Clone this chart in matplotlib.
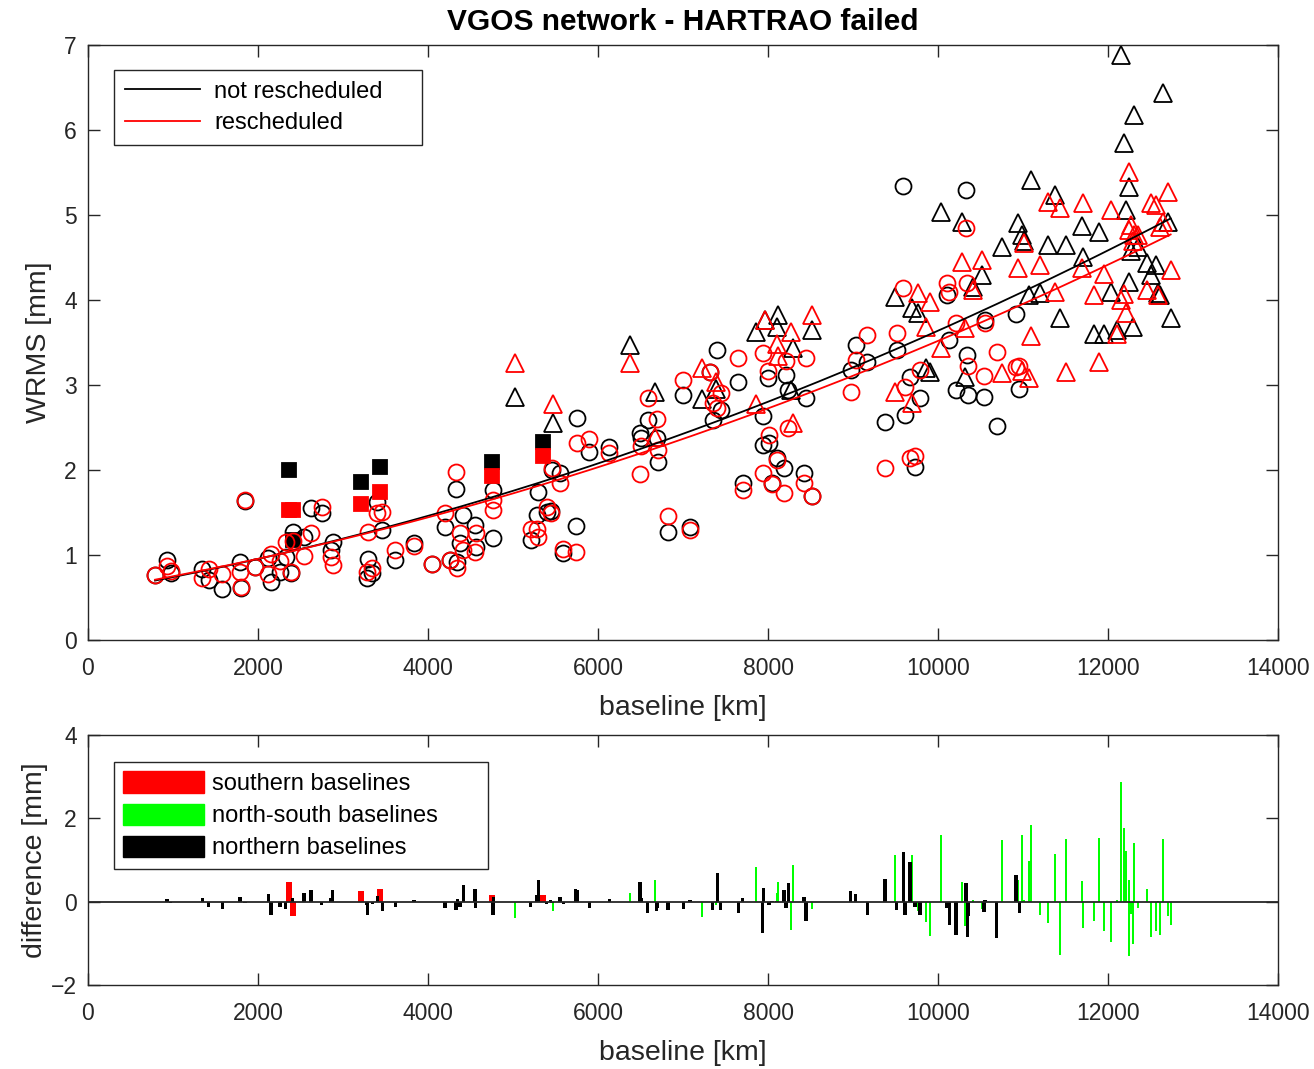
import numpy as np
import matplotlib
matplotlib.use("Agg")
import matplotlib.pyplot as plt
from matplotlib.lines import Line2D
from matplotlib.patches import Patch

plt.rcParams['font.family'] = ['Liberation Sans', 'DejaVu Sans']

# ---------------- data ----------------
# northern baselines: baseline length [km], WRMS not rescheduled, WRMS rescheduled [mm]
north_km = [788, 929, 973, 1345, 1420, 1580, 1788, 1800, 1847, 1965, 2121, 2153, 2259, 2325,
            2388, 2408, 2541, 2623, 2749, 2859, 2878, 3282, 3290, 3345, 3404, 3462, 3616, 3835,
            4043, 4200, 4259, 4329, 4345, 4376, 4415, 4553, 4560, 4765, 4770, 5208, 5282, 5298,
            5396, 5443, 5459, 5553, 5590, 5737, 5753, 5898, 6133, 6494, 6510, 6584, 6690, 6700,
            6824, 7004, 7082, 7318, 7349, 7404, 7443, 7651, 7702, 7937, 7945, 8004, 8012, 8047,
            8106, 8188, 8212, 8239, 8424, 8447, 8518, 8973, 9031, 9169, 9376, 9514, 9592, 9612,
            9671, 9729, 9788, 10102, 10133, 10212, 10329, 10345, 10357, 10541, 10553, 10690,
            10918, 10957]
north_not = [0.76, 0.94, 0.79, 0.83, 0.71, 0.60, 0.92, 0.61, 1.63, 0.86, 0.96, 0.68, 0.80, 0.98,
             0.79, 1.27, 1.21, 1.55, 1.50, 1.06, 1.15, 0.73, 0.95, 0.79, 1.62, 1.29, 0.94, 1.14,
             0.90, 1.33, 0.94, 1.78, 0.92, 1.14, 1.47, 1.35, 1.10, 1.20, 1.76, 1.18, 1.47, 1.74,
             1.51, 1.52, 2.00, 1.96, 1.02, 1.34, 2.61, 2.21, 2.27, 2.43, 2.38, 2.59, 2.38, 2.09,
             1.27, 2.88, 1.33, 3.15, 2.59, 3.41, 2.71, 3.04, 1.85, 2.63, 2.30, 3.08, 2.32, 1.85,
             2.14, 2.02, 3.12, 2.94, 1.96, 2.85, 1.69, 3.18, 3.47, 3.27, 2.56, 3.41, 5.34, 2.65,
             3.09, 2.04, 2.85, 4.06, 3.53, 2.94, 5.29, 3.35, 2.88, 2.86, 3.76, 2.52,
             3.84, 2.95]
north_res = [0.76, 0.87, 0.81, 0.73, 0.83, 0.78, 0.80, 0.62, 1.65, 0.86, 0.78, 1.01, 0.93, 1.15,
             0.80, 1.17, 0.99, 1.26, 1.57, 0.98, 0.88, 0.80, 1.27, 0.85, 1.49, 1.51, 1.06, 1.11,
             0.90, 1.49, 0.94, 1.98, 0.85, 1.26, 1.06, 1.04, 1.26, 1.53, 1.65, 1.31, 1.31, 1.21,
             1.56, 1.49, 2.02, 1.85, 1.07, 1.04, 2.32, 2.36, 2.20, 1.95, 2.28, 2.85, 2.60, 2.24,
             1.46, 3.06, 1.30, 3.15, 2.79, 2.73, 2.91, 3.32, 1.76, 3.38, 1.96, 3.16, 2.41, 1.83,
             2.12, 1.73, 3.28, 2.50, 1.85, 3.32, 1.69, 2.92, 3.29, 3.59, 2.02, 3.61, 4.14, 2.98,
             2.14, 2.16, 3.18, 4.20, 4.10, 3.73, 4.85, 4.20, 3.22, 3.11, 3.73, 3.39,
             3.21, 3.22]

# southern baselines
south_km = [2365, 2415, 3208, 3435, 4757, 5357]
south_not = [2.00, 1.18, 1.86, 2.04, 2.09, 2.33]
south_res = [1.53, 1.53, 1.60, 1.74, 1.93, 2.17]

# north-south baselines
ns_km = [5027, 5471, 6376, 6671, 7220, 7388, 7859, 7965, 8102, 8121, 8271, 8298, 8514, 9494,
         9690, 9765, 9859, 9906, 10031, 10278, 10318, 10408, 10514, 10749, 10937, 10992, 11010,
         11071, 11090, 11200, 11290, 11376, 11435, 11506, 11698, 11702, 11839, 11898, 11957,
         12035, 12110, 12149, 12188, 12208, 12247, 12251, 12267, 12290, 12302, 12357, 12462,
         12502, 12565, 12590, 12612, 12651, 12710, 12737]
ns_not = [2.86, 2.55, 3.47, 2.92, 2.84, 2.95, 3.62, 3.76, 3.68, 3.82, 2.94, 3.44, 3.65, 4.04,
          3.91, 3.85, 3.20, 3.15, 5.04, 4.92, 3.09, 4.15, 4.29, 4.62, 4.90, 4.76, 4.70,
          4.06, 5.41, 4.08, 4.65, 5.23, 3.79, 4.65, 4.87, 4.51, 3.60, 4.80, 3.60,
          4.09, 3.65, 6.88, 5.85, 5.06, 5.33, 4.21, 4.58, 3.68, 6.18, 4.62, 4.43,
          4.29, 4.41, 4.08, 4.06, 6.43, 4.92, 3.79]
ns_res = [3.26, 2.78, 3.26, 2.39, 3.20, 3.03, 2.78, 3.76, 3.48, 3.34, 3.62, 2.55, 3.82, 2.92,
          2.79, 4.08, 3.68, 3.98, 3.43, 4.45, 3.67, 4.12, 4.47, 3.14, 4.38, 3.16, 4.67,
          3.08, 3.58, 4.41, 5.15, 4.09, 5.08, 3.15, 4.38, 5.14, 4.06, 3.27, 4.31,
          5.06, 3.60, 4.00, 4.07, 3.85, 4.82, 5.51, 4.88, 4.70, 4.76, 4.77, 4.12,
          5.14, 5.12, 4.06, 4.86, 4.92, 5.27, 4.35]

legend_top = ['not rescheduled', 'rescheduled']
legend_bottom = ['southern baselines', 'north-south baselines', 'northern baselines']

# ---------------- figure ----------------
W, H = 1314, 1069
fig = plt.figure(figsize=(W / 100, H / 100), dpi=100)
ax1 = fig.add_axes([88 / W, 1 - 640 / H, 1190 / W, 595 / H])
ax2 = fig.add_axes([88 / W, 1 - 985 / H, 1190 / W, 250 / H])

dark = (0.15, 0.15, 0.15)
RED = (1, 0, 0)
GREEN = (0, 1, 0)
TICK_FS = 16.5
LABEL_FS = 20.5
LEG_FS = 17

mk = dict(linestyle='none', markeredgewidth=1.3)
# not rescheduled (black)
ax1.plot(north_km, north_not, marker='o', ms=11.5, mfc='none', mec='k', **mk)
ax1.plot(ns_km, ns_not, marker='^', ms=12.5, mfc='none', mec='k', **mk)
ax1.plot(south_km, south_not, marker='s', ms=9.5, mfc='k', mec='k', **mk)
# rescheduled (red)
ax1.plot(north_km, north_res, marker='o', ms=11.5, mfc='none', mec=RED, **mk)
ax1.plot(ns_km, ns_res, marker='^', ms=12.5, mfc='none', mec=RED, **mk)
ax1.plot(south_km, south_res, marker='s', ms=9.5, mfc=RED, mec=RED, **mk)

# quadratic fits
all_km = np.array(north_km + south_km + ns_km, dtype=float)
all_not = np.array(north_not + south_not + ns_not)
all_res = np.array(north_res + south_res + ns_res)
xs = np.linspace(all_km.min(), all_km.max(), 200)
p_not = np.polyfit(all_km, all_not, 2)
p_res = np.polyfit(all_km, all_res, 2)
ax1.plot(xs, np.polyval(p_not, xs), color='k', lw=1.3)
ax1.plot(xs, np.polyval(p_res, xs), color=RED, lw=1.3)

ax1.set_xlim(0, 14000)
ax1.set_ylim(0, 7)
ax1.set_xticks(np.arange(0, 14001, 2000))
ax1.set_yticks(np.arange(0, 8, 1))
ax1.set_xlabel('baseline [km]', fontsize=LABEL_FS, color=dark, labelpad=11)
ax1.set_ylabel('WRMS [mm]', fontsize=LABEL_FS, color=dark)
ax1.set_title('VGOS network - HARTRAO failed', fontsize=21.5, fontweight='bold', pad=11)

leg1 = ax1.legend([Line2D([], [], color='k', lw=1.3), Line2D([], [], color=RED, lw=1.3)],
                  legend_top, loc='upper left',
                  bbox_to_anchor=(26 / 1190, 570 / 595 - 0.01, 308 / 1190, 0.01), mode='expand',
                  borderaxespad=0, fancybox=False, framealpha=1, edgecolor=dark,
                  fontsize=LEG_FS, handlelength=3.2, handletextpad=0.6, borderpad=0.45,
                  labelspacing=0.4)
leg1.get_frame().set_linewidth(1.0)

# ---------------- difference panel ----------------
south_diff = np.array(south_not) - np.array(south_res)
ns_diff = np.array(ns_not) - np.array(ns_res)
north_diff = np.array(north_not) - np.array(north_res)
ax2.bar(south_km, south_diff, width=70, color=RED, linewidth=0)
ax2.bar(ns_km, ns_diff, width=24, color=GREEN, linewidth=0)
ax2.bar(north_km, north_diff, width=38, color='k', linewidth=0)
ax2.axhline(0, color=dark, lw=1.3, zorder=3)

ax2.set_xlim(0, 14000)
ax2.set_ylim(-2, 4)
ax2.set_xticks(np.arange(0, 14001, 2000))
ax2.set_yticks([-2, 0, 2, 4])
ax2.set_xlabel('baseline [km]', fontsize=LABEL_FS, color=dark, labelpad=11)
ax2.set_ylabel('difference [mm]', fontsize=LABEL_FS, color=dark)

leg2 = ax2.legend([Patch(color=RED), Patch(color=GREEN), Patch(color='k')], legend_bottom,
                  loc='upper left',
                  bbox_to_anchor=(26 / 1190, 223 / 250 - 0.01, 374 / 1190, 0.01), mode='expand',
                  borderaxespad=0, fancybox=False, framealpha=1, edgecolor=dark, fontsize=LEG_FS,
                  handlelength=3.4, handleheight=1.0, handletextpad=0.34, borderpad=0.4,
                  labelspacing=0.36)
leg2.get_frame().set_linewidth(1.0)

for ax in (ax1, ax2):
    for s in ax.spines.values():
        s.set_color(dark)
        s.set_linewidth(1.0)
    ax.tick_params(direction='in', length=8.5, width=1.0, top=True, right=True,
                   labelsize=TICK_FS, colors=dark, pad=8)
    ax.tick_params(axis='x', pad=12)
ax1.yaxis.set_label_coords(-0.030, 0.5)
ax2.yaxis.set_label_coords(-0.034, 0.5)

fig.savefig('out.png', dpi=100)
